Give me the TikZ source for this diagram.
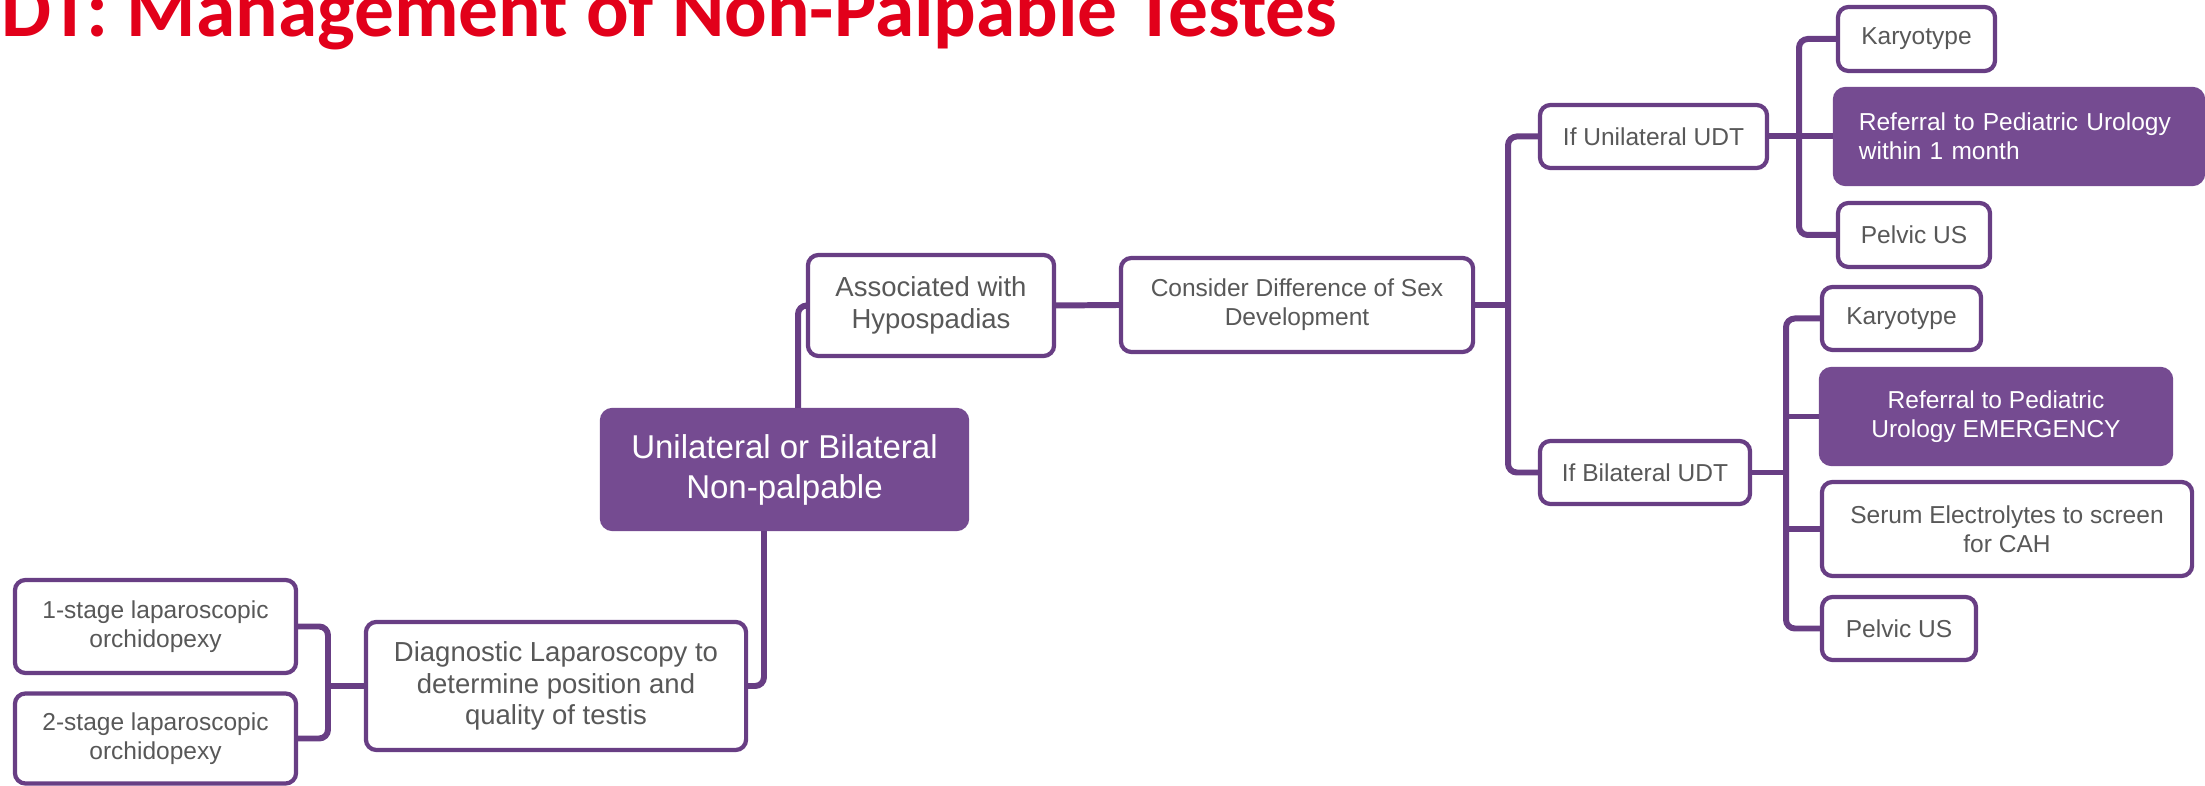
\documentclass[tikz,border=0pt]{standalone}
\usepackage{fontspec}
\setmainfont{Liberation Sans}
\newfontfamily\titlefont{Carlito}
\definecolor{pur}{RGB}{117,75,145}
\definecolor{purline}{RGB}{104,62,132}
\definecolor{txt}{RGB}{88,88,88}
\definecolor{ttl}{RGB}{226,0,26}
\tikzset{
  box/.style={draw=purline, line width=1.2pt, rounded corners=3pt, fill=white, text=txt, align=center, inner sep=0pt},
  fbox/.style={box, fill=pur, draw=pur, text=white},
  fs/.style={font=\fontsize{6.97}{8.25}\selectfont},
  fm/.style={font=\fontsize{7.82}{8.96}\selectfont},
  fl/.style={font=\fontsize{9.39}{11.38}\selectfont},
  link/.style={draw=purline, line width=1.7pt, rounded corners=2.5pt}
}
\begin{document}
\begin{tikzpicture}[x=0.01cm,y=-0.01cm]
\useasboundingbox (0,0) rectangle (2205,786);
\node[anchor=base east, text=ttl, font=\titlefont\bfseries\fontsize{22.6}{25}\selectfont, inner sep=0pt] (title) at (1338,37) {DT: Management of Non-Palpable Testes};

\node[fbox, fl, minimum width=3.65cm, minimum height=1.19cm] (central) at (784.5,469.5) {Unilateral or Bilateral\\Non-palpable};
\node[box, fm, minimum width=2.46cm, minimum height=1.01cm] (assoc) at (931,305.5) {Associated with\\Hypospadias};
\node[box, fs, minimum width=3.52cm, minimum height=0.94cm] (consider) at (1297,305) {Consider Difference of Sex\\Development};
\node[box, fs, minimum width=2.27cm, minimum height=0.63cm] (ifuni) at (1653.5,136.5) {If Unilateral UDT};
\node[box, fs, minimum width=1.57cm, minimum height=0.64cm] (kary1) at (1916.5,39) {Karyotype};
\node[fbox, fs, minimum width=3.68cm, minimum height=0.95cm, align=left, text width=3.20cm] (ref1) at (2019,136.5) {Referral to Pediatric Urology\\within 1 month};
\node[box, fs, minimum width=1.52cm, minimum height=0.64cm] (pelvic1) at (1914,235) {Pelvic US};
\node[box, fs, minimum width=2.10cm, minimum height=0.63cm] (ifbi) at (1645,472.5) {If Bilateral UDT};
\node[box, fs, minimum width=1.59cm, minimum height=0.63cm] (kary2) at (1901.5,318.5) {Karyotype};
\node[fbox, fs, minimum width=3.50cm, minimum height=0.95cm] (ref2) at (1996,416.5) {Referral to Pediatric\\Urology EMERGENCY};
\node[box, fs, minimum width=3.70cm, minimum height=0.94cm] (serum) at (2007,529) {Serum Electrolytes to screen\\for CAH};
\node[box, fs, minimum width=1.54cm, minimum height=0.63cm] (pelvic2) at (1899,628.5) {Pelvic US};
\node[box, fm, minimum width=3.80cm, minimum height=1.28cm] (diag) at (556,686) {Diagnostic Laparoscopy to\\determine position and\\quality of testis};
\node[box, fs, minimum width=2.81cm, minimum height=0.93cm] (stage1) at (155.5,626.5) {1-stage laparoscopic\\orchidopexy};
\node[box, fs, minimum width=2.81cm, minimum height=0.90cm] (stage2) at (155.5,738.5) {2-stage laparoscopic\\orchidopexy};

\coordinate (j1) at (1508,305);
\coordinate (j2) at (1799,136.5);
\coordinate (j3) at (1786,472.5);
\coordinate (j4) at (328,686);

\draw[link] ([xshift=0.135cm]central.north) |- (assoc.west);
\draw[link] (assoc.east) -- (consider.west);
\draw[link] (consider.east) -- (j1);
\draw[link] (ifuni.west) -| (j1) |- (ifbi.west);
\draw[link] (ifuni.east) -- (ref1.west);
\draw[link] (kary1.west) -| (j2) |- (pelvic1.west);
\draw[link] (ifbi.east) -- (j3);
\draw[link] (kary2.west) -| (j3) |- (pelvic2.west);
\draw[link] (j3 |- ref2.west) -- (ref2.west);
\draw[link] (j3 |- serum.west) -- (serum.west);
\draw[link] ([xshift=-0.205cm]central.south) |- (diag.east);
\draw[link] (diag.west) -- (j4);
\draw[link] (stage1.east) -| (j4) |- (stage2.east);
\end{tikzpicture}
\end{document}
